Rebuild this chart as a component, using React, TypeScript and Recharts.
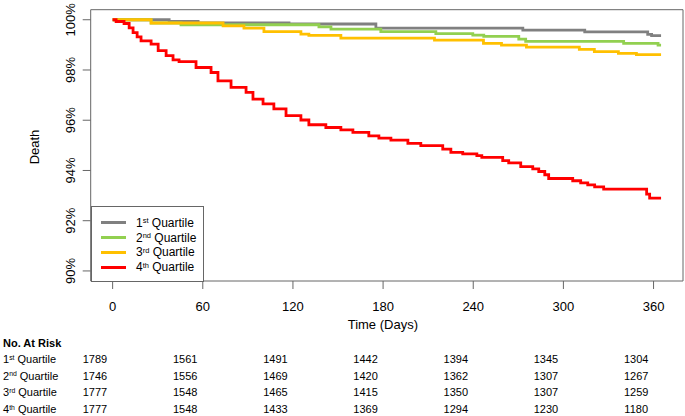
import React from 'react'
import { LineChart, Line, XAxis, YAxis, ReferenceArea, Label } from 'recharts'

// Kaplan-Meier style step curves (days, % not dead)
const q1Days = [0, 37.6, 56.9, 117.4, 175.2, 273.0, 314.2, 356.1, 358.7, 365]
const q1Surv = [100, 99.93, 99.87, 99.83, 99.67, 99.59, 99.52, 99.42, 99.37, 99.37]

const q2Days = [0, 25.6, 45.5, 137.3, 145.3, 178.5, 215.1, 239.7, 247.0, 270.3, 274.9, 340.1, 363, 365]
const q2Surv = [100, 99.87, 99.8, 99.72, 99.63, 99.53, 99.45, 99.39, 99.34, 99.23, 99.14, 99.06, 98.99, 98.99]

const q3Days = [0, 25.6, 73.5, 87.4, 100.7, 125.3, 130.6, 151.9, 214.2, 246.8, 258.8, 275.4, 310.6, 320.6, 336.6, 348.6, 365]
const q3Surv = [100, 99.87, 99.76, 99.67, 99.53, 99.43, 99.38, 99.27, 99.19, 99.06, 98.99, 98.91, 98.82, 98.73, 98.66, 98.61, 98.61]

const q4Days = [
  0, 2.3, 7.6, 11.0, 13.6, 16.3, 18.9, 25.6, 30.3, 35.6, 40.2, 44.2, 55.5, 65.5, 70.1, 78.8, 88.8, 93.4,
  100.1, 107.3, 115.4, 125.3, 130.6, 141.9, 151.9, 159.9, 170.5, 177.2, 185.2, 196.5, 205.1, 219.7, 225.1,
  233.0, 242.4, 245.7, 259.6, 263.6, 271.6, 279.6, 283.6, 287.6, 290.2, 306.2, 311.5, 316.2, 320.8, 326.8,
  355.4, 357.4, 365,
]
const q4Surv = [
  100, 99.93, 99.85, 99.68, 99.49, 99.32, 99.16, 99.03, 98.77, 98.57, 98.4, 98.33, 98.1, 97.9, 97.57, 97.31,
  97.11, 96.84, 96.65, 96.45, 96.18, 96.01, 95.82, 95.71, 95.62, 95.52, 95.38, 95.29, 95.21, 95.08, 94.99,
  94.85, 94.72, 94.66, 94.59, 94.52, 94.39, 94.3, 94.15, 94.06, 93.96, 93.83, 93.68, 93.59, 93.51, 93.43,
  93.35, 93.26, 93.06, 92.9, 92.9,
]

const xTicks = [0, 60, 120, 180, 240, 300, 360]
const yTicks = [90, 92, 94, 96, 98, 100]

const quartileNum = ['1', '2', '3', '4']
const quartileSup = ['st', 'nd', 'rd', 'th']
const quartileColors = ['#808080', '#92d050', '#ffc000', '#ff0000']

// number at risk, one row per quartile, one column per x tick
const atRisk1 = [1789, 1561, 1491, 1442, 1394, 1345, 1304]
const atRisk2 = [1746, 1556, 1469, 1420, 1362, 1307, 1267]
const atRisk3 = [1777, 1548, 1465, 1415, 1350, 1307, 1259]
const atRisk4 = [1777, 1548, 1433, 1369, 1294, 1230, 1180]

const toSteps = (days: number[], surv: number[]) => days.map((d, i) => ({ day: d, surv: surv[i] }))

const series = [
  toSteps(q1Days, q1Surv),
  toSteps(q2Days, q2Surv),
  toSteps(q3Days, q3Surv),
  toSteps(q4Days, q4Surv),
]
const atRiskRows = [atRisk1, atRisk2, atRisk3, atRisk4]

const FONT = '"Liberation Sans", Arial, sans-serif'
const AXIS = '#666'

const XTick = ({ x, y, payload }: any) => (
  <text x={x} y={y + 20} textAnchor="middle" fontSize={13} fill="#000" fontFamily={FONT}>{payload.value}</text>
)

const YTick = ({ x, y, payload }: any) => (
  <text x={x - 5.5} y={y} transform={`rotate(-90, ${x - 5.5}, ${y})`} textAnchor="middle" fontSize={13} fill="#000" fontFamily={FONT}>
    {payload.value}%
  </text>
)

const QLabel = ({ i, size }: { i: number; size: number }) => (
  <span>
    {quartileNum[i]}
    <sup style={{ fontSize: size * 0.62, verticalAlign: 'top', position: 'relative', top: -size * 0.12 }}>{quartileSup[i]}</sup>{' '}
    Quartile
  </span>
)

export default function App() {
  const rowCenters = [359.3, 375.5, 392, 409]
  const colCenters = [95, 185.2, 275.4, 365.6, 455.8, 546, 636.2]
  return (
    <div style={{ position: 'absolute', left: 0, top: 0, width: 685, height: 416, background: '#fff', fontFamily: FONT, color: '#000' }}>
      <LineChart width={685} height={416} margin={{ top: 9.7, right: 2, bottom: 105, left: 30.7 }}>
        <XAxis
          dataKey="day"
          type="number"
          domain={[-14.6, 379.6]}
          ticks={xTicks}
          axisLine={false}
          tickLine={{ stroke: AXIS }}
          tickSize={8}
          tick={<XTick />}
          height={30}
          allowDataOverflow
        >
          <Label
            content={({ viewBox }: any) => (
              <text x={viewBox.x + viewBox.width / 2 - 4} y={viewBox.y + 48} textAnchor="middle" fontSize={13} fontFamily={FONT} fill="#000">
                Time (Days)
              </text>
            )}
          />
        </XAxis>
        <YAxis
          dataKey="surv"
          type="number"
          domain={[89.6, 100.4]}
          ticks={yTicks}
          axisLine={false}
          tickLine={{ stroke: AXIS }}
          tickSize={8}
          tick={<YTick />}
          width={60}
          allowDataOverflow
        >
          <Label
            content={() => (
              <text x={39} y={147} transform="rotate(-90, 39, 147)" textAnchor="middle" fontSize={13} fontFamily={FONT} fill="#000">
                Death
              </text>
            )}
          />
        </YAxis>
        {series.map((s, i) => (
          <Line
            key={i}
            data={s}
            dataKey="surv"
            type="stepAfter"
            stroke={quartileColors[i]}
            strokeWidth={2.8}
            dot={false}
            activeDot={false}
            isAnimationActive={false}
          />
        ))}
        <ReferenceArea x1={-14.6} x2={379.6} y1={89.6} y2={100.4} fill="none" stroke={AXIS} strokeWidth={1} />
      </LineChart>

      {/* legend box, bottom-left inside the plot */}
      <div style={{ position: 'absolute', left: 91, top: 206, width: 111, height: 74, border: `1px solid ${AXIS}`, background: '#fff', boxSizing: 'content-box' }}>
        {quartileColors.map((c, i) => (
          <div key={i} style={{ position: 'absolute', left: 0, top: 15.7 + i * 14.8 - 7, height: 14, width: 111 }}>
            <div style={{ position: 'absolute', left: 9, top: 5.5, width: 25, height: 3, background: c }} />
            <div style={{ position: 'absolute', left: 44, top: 0, fontSize: 12, lineHeight: '14px', whiteSpace: 'nowrap' }}>
              <QLabel i={i} size={12} />
            </div>
          </div>
        ))}
      </div>

      {/* number at risk table */}
      <div style={{ position: 'absolute', left: 3, top: 342.7 - 7, fontSize: 11, fontWeight: 'bold', lineHeight: '14px', whiteSpace: 'nowrap' }}>
        No. At Risk
      </div>
      {atRiskRows.map((row, r) => (
        <React.Fragment key={r}>
          <div style={{ position: 'absolute', left: 3, top: rowCenters[r] - 7, fontSize: 11, lineHeight: '14px', whiteSpace: 'nowrap' }}>
            <QLabel i={r} size={11} />
          </div>
          {row.map((v, c) => (
            <div key={c} style={{ position: 'absolute', left: colCenters[c] - 30, width: 60, textAlign: 'center', top: rowCenters[r] - 7, fontSize: 11, lineHeight: '14px' }}>
              {v}
            </div>
          ))}
        </React.Fragment>
      ))}
    </div>
  )
}
